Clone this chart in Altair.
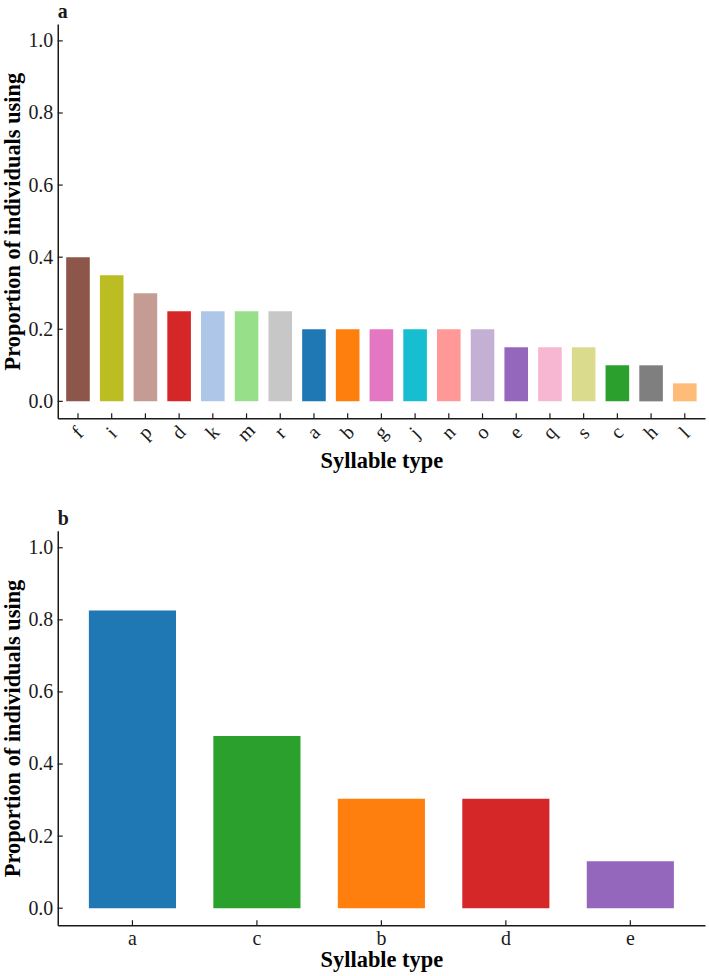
import altair as alt
import pandas as pd

# Panel a: proportion of individuals using each syllable type
syllables_a = ["f", "i", "p", "d", "k", "m", "r", "a", "b", "g",
               "j", "n", "o", "e", "q", "s", "c", "h", "l"]
proportion_a = [0.40, 0.35, 0.30, 0.25, 0.25, 0.25, 0.25, 0.20, 0.20, 0.20,
                0.20, 0.20, 0.20, 0.15, 0.15, 0.15, 0.10, 0.10, 0.05]

# Panel b
syllables_b = ["a", "c", "b", "d", "e"]
proportion_b = [0.826, 0.478, 0.304, 0.304, 0.130]

# One colour per syllable type, shared by both panels
palette_keys = ["a", "b", "c", "d", "e", "f", "g", "h", "i", "j",
                "k", "l", "m", "n", "o", "p", "q", "r", "s"]
palette_colors = ["#1f77b4", "#ff7f0e", "#2ca02c", "#d62728", "#9467bd",
                  "#8c564b", "#e377c2", "#7f7f7f", "#bcbd22", "#17becf",
                  "#aec7e8", "#ffbb78", "#98df8a", "#ff9896", "#c5b0d5",
                  "#c49c94", "#f7b6d2", "#c7c7c7", "#dbdb8d"]

y_tick_values = [0.0, 0.2, 0.4, 0.6, 0.8, 1.0]

FONT = "Liberation Serif"
INK = "#1a1a1a"
W, H = 650, 396
TICK = 5


def panel(cats, vals, letter, rotated):
    df = pd.DataFrame({"syllable": cats, "proportion": vals})
    ticks_df = pd.DataFrame({"proportion": y_tick_values})

    if rotated:
        x_axis = alt.Axis(labelAngle=-45, labelAlign="center", labelBaseline="middle",
                          labelPadding=14, titlePadding=5)
    else:
        x_axis = alt.Axis(labelAngle=0, labelAlign="center", labelBaseline="top",
                          labelPadding=3, titlePadding=1)

    x = alt.X("syllable:N", sort=cats, title="Syllable  type",
              scale=alt.Scale(paddingInner=0.3, paddingOuter=0.25), axis=x_axis)
    y = alt.Y("proportion:Q", title="Proportion of individuals using",
              scale=alt.Scale(domain=[-0.047, 1.047], nice=False, zero=False),
              axis=alt.Axis(values=y_tick_values, format=".1f",
                            labelPadding=5, titlePadding=3))

    bars = alt.Chart(df).mark_bar().encode(
        x=x,
        y=y,
        y2=alt.datum(0),
        color=alt.Color("syllable:N",
                        scale=alt.Scale(domain=palette_keys, range=palette_colors),
                        legend=None),
    )
    # inward-pointing tick marks
    x_ticks = alt.Chart(df).mark_rule(color=INK, strokeWidth=1.2).encode(
        x=x, y=alt.value(H - TICK), y2=alt.value(H)
    )
    y_ticks = alt.Chart(ticks_df).mark_rule(color=INK, strokeWidth=1.2).encode(
        y=y, x=alt.value(0), x2=alt.value(TICK)
    )
    return alt.layer(bars, x_ticks, y_ticks).properties(
        width=W, height=H,
        title=alt.TitleParams(letter, anchor="start", frame="group", offset=2,
                              font=FONT, fontSize=20, fontWeight="bold", color=INK),
    )


chart = alt.vconcat(
    panel(syllables_a, proportion_a, "a", True),
    panel(syllables_b, proportion_b, "b", False),
    spacing=36,
).properties(
    padding={"left": 2, "top": 0, "right": 4, "bottom": 0},
    background="white",
).configure_view(
    stroke=None
).configure_axis(
    domainColor=INK,
    domainWidth=1.5,
    ticks=False,
    grid=False,
    labelFont=FONT,
    labelFontSize=20,
    labelColor=INK,
    titleFont=FONT,
    titleFontSize=22.5,
    titleFontWeight="bold",
    titleColor="black",
)

chart.save("out.html", embed_options={"renderer": "svg", "actions": False})
